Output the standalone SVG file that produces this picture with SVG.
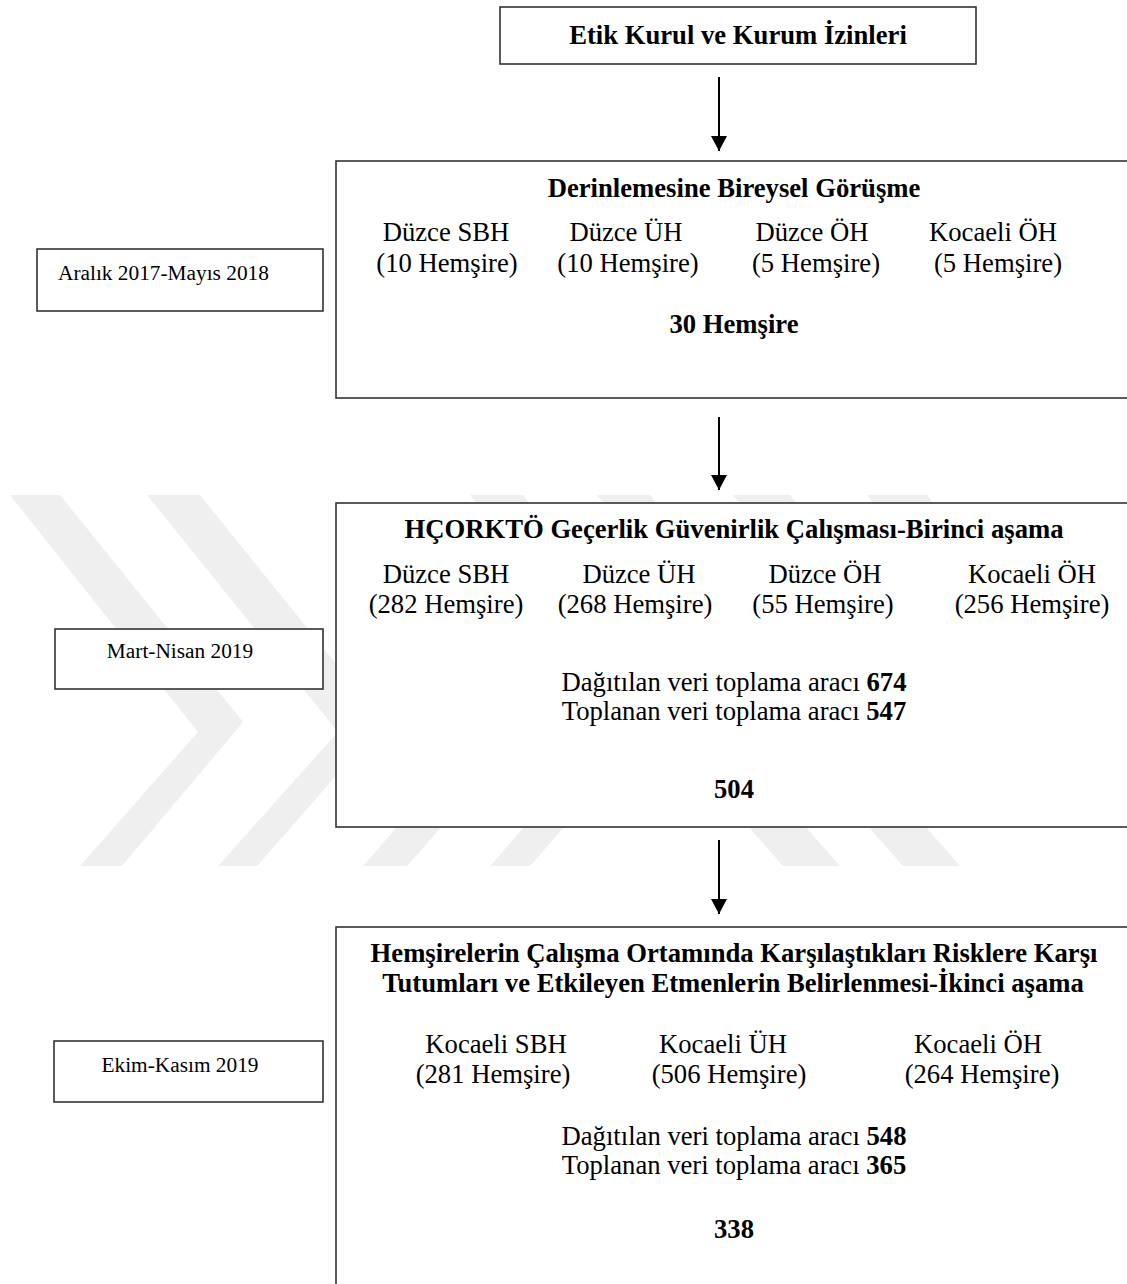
<svg xmlns="http://www.w3.org/2000/svg" width="1127" height="1284" viewBox="0 0 1127 1284">
<defs>
<style>
.box{fill:#fff;stroke:#333;stroke-width:1.6}
.t{font-family:"Liberation Serif","Times New Roman",serif;font-size:26.67px;fill:#000}
.b{font-weight:bold}
.c{text-anchor:middle}
.lbl{font-family:"Liberation Serif","Times New Roman",serif;font-size:21.33px;fill:#000}
.wm{fill:#efefef}
.conn{stroke:#000;stroke-width:2;fill:none}
</style>
<marker id="ah" markerUnits="userSpaceOnUse" markerWidth="16" markerHeight="16" viewBox="0 0 16 16" refX="15" refY="8" orient="auto">
<path d="M0,0 L15,8 L0,16 Z" fill="#000"/>
</marker>
</defs>
<rect width="1127" height="1284" fill="#fff"/>
<g id="watermark">
<polygon class="wm" points="10,495 60,495 243,722 122,866 80,866 198,732"/>
<polygon class="wm" points="147,495 200,495 383,722 257,866 218,866 338,732"/>
<polygon class="wm" points="470,495 523,495 530,504 477,504"/>
<polygon class="wm" points="597,495 650,495 657,504 604,504"/>
<polygon class="wm" points="733,495 790,495 797,504 740,504"/>
<polygon class="wm" points="867,495 927,495 934,504 874,504"/>
<polygon class="wm" points="398,826 442,826 407,866 363,866"/>
<polygon class="wm" points="525,826 565,826 530,866 490,866"/>
<polygon class="wm" points="748,826 805,826 840,866 783,866"/>
<polygon class="wm" points="868,826 925,826 960,866 903,866"/>
</g>
<g id="connectors">
<line class="conn" x1="719" y1="77" x2="719" y2="151" marker-end="url(#ah)"/>
<line class="conn" x1="719" y1="417" x2="719" y2="490" marker-end="url(#ah)"/>
<line class="conn" x1="719" y1="840" x2="719" y2="914" marker-end="url(#ah)"/>
</g>
<g id="node-etik">
<rect class="box" x="500" y="7" width="476" height="57"/>
<text class="t b c" x="738" y="44">Etik Kurul ve Kurum İzinleri</text>
</g>
<g id="node-derinlemesine">
<rect class="box" x="336" y="161" width="810" height="237"/>
<text class="t b c" x="734" y="197">Derinlemesine Bireysel Görüşme</text>
<text class="t c" x="446" y="241">Düzce SBH</text>
<text class="t c" x="447" y="272">(10 Hemşire)</text>
<text class="t c" x="626" y="241">Düzce ÜH</text>
<text class="t c" x="628" y="272">(10 Hemşire)</text>
<text class="t c" x="812" y="241">Düzce ÖH</text>
<text class="t c" x="816" y="272">(5 Hemşire)</text>
<text class="t c" x="993" y="241">Kocaeli ÖH</text>
<text class="t c" x="998" y="272">(5 Hemşire)</text>
<text class="t b c" x="734" y="333">30 Hemşire</text>
</g>
<g id="node-aralik">
<rect class="box" x="37" y="249" width="286" height="62"/>
<text class="lbl" x="58" y="280">Aralık 2017-Mayıs 2018</text>
</g>
<g id="node-hcorkto">
<rect class="box" x="336" y="503" width="810" height="324"/>
<text class="t b c" x="734" y="538">HÇORKTÖ Geçerlik Güvenirlik Çalışması-Birinci aşama</text>
<text class="t c" x="446" y="583">Düzce SBH</text>
<text class="t c" x="446" y="613">(282 Hemşire)</text>
<text class="t c" x="639" y="583">Düzce ÜH</text>
<text class="t c" x="635" y="613">(268 Hemşire)</text>
<text class="t c" x="825" y="583">Düzce ÖH</text>
<text class="t c" x="823" y="613">(55 Hemşire)</text>
<text class="t c" x="1032" y="583">Kocaeli ÖH</text>
<text class="t c" x="1032" y="613">(256 Hemşire)</text>
<text class="t c" x="734" y="691">Dağıtılan veri toplama aracı <tspan class="b">674</tspan></text>
<text class="t c" x="734" y="720">Toplanan veri toplama aracı <tspan class="b">547</tspan></text>
<text class="t b c" x="734" y="798">504</text>
</g>
<g id="node-mart">
<rect class="box" x="55" y="629" width="268" height="60"/>
<text class="lbl c" x="180" y="658">Mart-Nisan 2019</text>
</g>
<g id="node-hemsirelerin">
<rect class="box" x="336" y="927" width="810" height="380"/>
<text class="t b c" x="734" y="962">Hemşirelerin Çalışma Ortamında Karşılaştıkları Risklere Karşı</text>
<text class="t b c" x="733" y="992">Tutumları ve Etkileyen Etmenlerin Belirlenmesi-İkinci aşama</text>
<text class="t c" x="496" y="1053">Kocaeli SBH</text>
<text class="t c" x="493" y="1083">(281 Hemşire)</text>
<text class="t c" x="723" y="1053">Kocaeli ÜH</text>
<text class="t c" x="729" y="1083">(506 Hemşire)</text>
<text class="t c" x="978" y="1053">Kocaeli ÖH</text>
<text class="t c" x="982" y="1083">(264 Hemşire)</text>
<text class="t c" x="734" y="1145">Dağıtılan veri toplama aracı <tspan class="b">548</tspan></text>
<text class="t c" x="734" y="1174">Toplanan veri toplama aracı <tspan class="b">365</tspan></text>
<text class="t b c" x="734" y="1238">338</text>
</g>
<g id="node-ekim">
<rect class="box" x="54" y="1041" width="269" height="61"/>
<text class="lbl c" x="180" y="1072">Ekim-Kasım 2019</text>
</g>
</svg>
